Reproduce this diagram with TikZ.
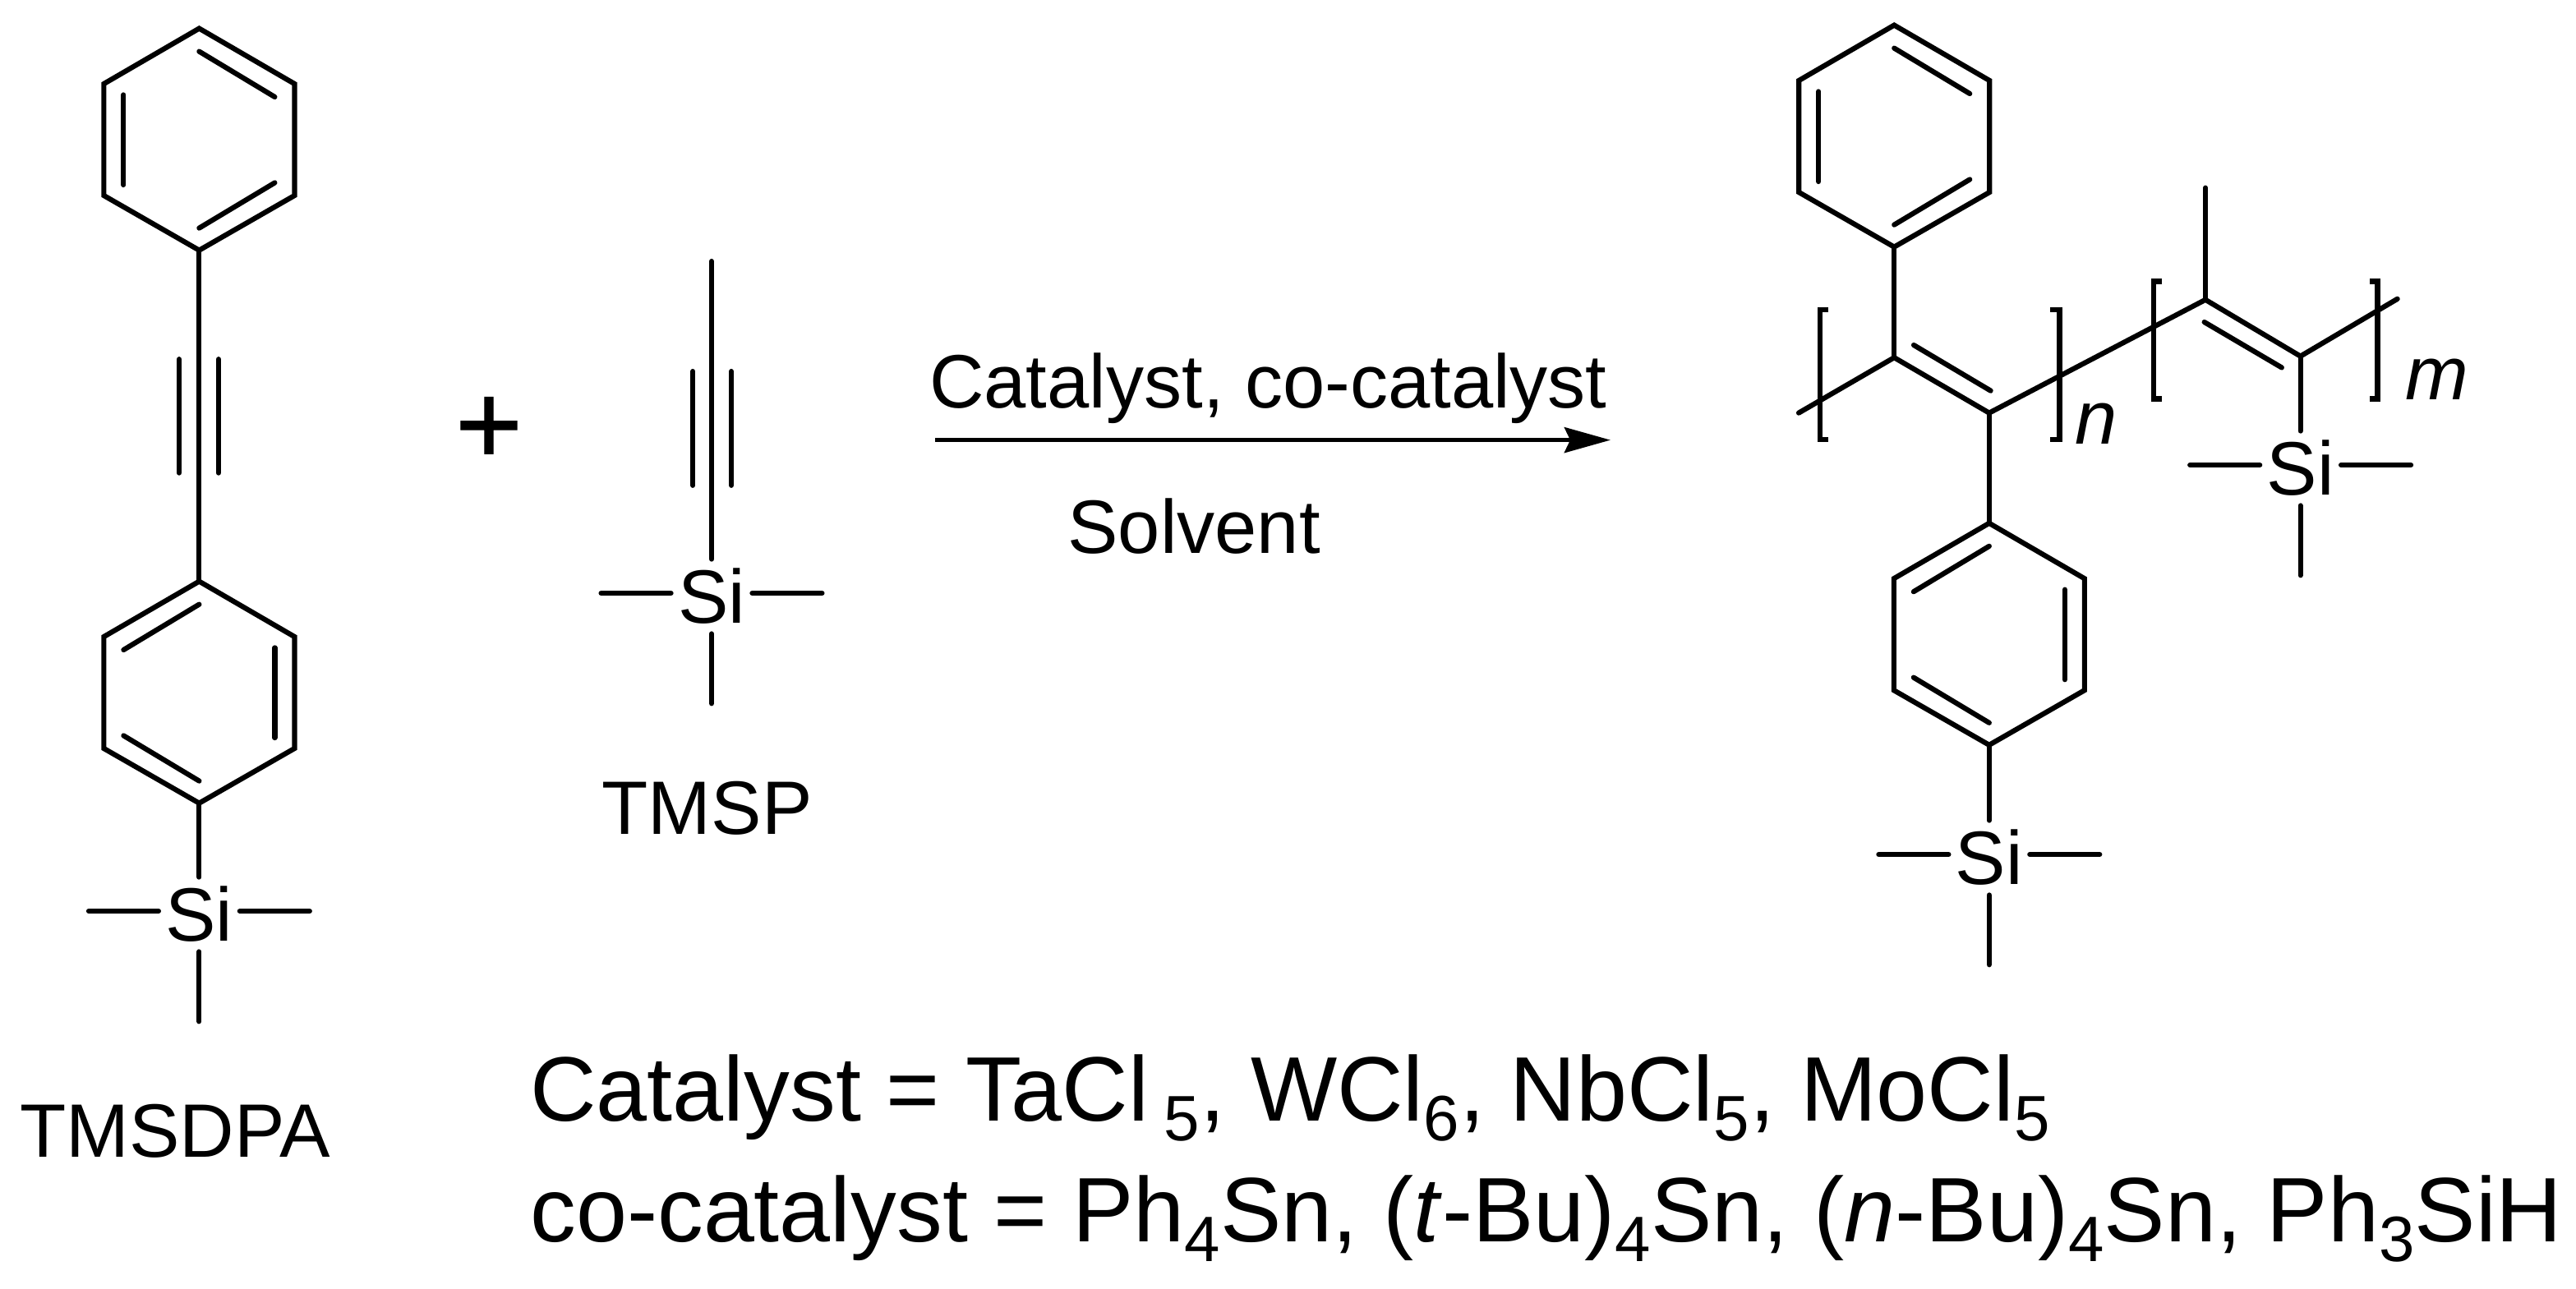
\documentclass[tikz,border=0pt]{standalone}
\usepackage{fontspec}
\setmainfont{Liberation Sans}
\newfontfamily\plusfont[FakeBold=1]{Liberation Sans}
\usetikzlibrary{arrows.meta}

\newcommand{\subn}[1]{\raisebox{-0.22em}{\fontsize{11.1}{12}\selectfont #1}}

\tikzset{
  bond/.style={line width=0.88pt,line cap=round,line join=miter},
  brk/.style={line width=0.9pt,line cap=butt,line join=miter},
  atom/.style={inner sep=0pt,minimum width=0.48cm,minimum height=0.44cm,font=\fontsize{13.1}{15}\selectfont},
  lbl/.style={inner sep=0pt,font=\fontsize{13.1}{15}\selectfont},
  lst/.style={inner sep=0pt,anchor=base west,font=\fontsize{15.85}{18}\selectfont}
}

\begin{document}
\begin{tikzpicture}[x=0.01cm,y=-0.01cm]
  \useasboundingbox (0,0) rectangle (1567.5,784);

  \foreach \name/\x/\y/\s in {pha/121.2/17.3/1,phb/121.2/353.8/-1,phc/1152.6/15.3/1,phd/1210.4/318.4/-1} {
    \begin{scope}[shift={(\x,\y)},xscale=\s]
      \coordinate (\name t) at (0,0);
      \coordinate (\name b) at (0,135);
      \draw[bond] (0,0) -- (58,33.7) -- (58,101.7) -- (0,135) -- (-58,101.7) -- (-58,33.7) -- cycle;
      \draw[bond] (0,14) -- (46,41.7);
      \draw[bond] (-46,40.4) -- (-46,95.2);
      \draw[bond] (0,121.5) -- (46,93.9);
    \end{scope}
  }

  \foreach \name/\x/\y in {sia/121.2/556.5,sib/433/363,sic/1210.4/522,sid/1399.8/285} {
    \node[atom] (\name) at (\x,\y) {Si};
    \draw[bond] ([yshift=0.2mm]\name.west) -- ++(-42.5,0);
    \draw[bond] ([yshift=0.2mm]\name.east) -- ++(42.5,0);
    \draw[bond] (\name.south) -- ++(0,42.4);
  }

  % TMSDPA
  \draw[bond] (phab) -- (phbt);
  \draw[bond] (phbb) -- (sia.north);
  \draw[bond] (109,218.6) -- (109,287.8);
  \draw[bond] (133,218.6) -- (133,287.8);
  \node[lbl] (tmsdpa) at (106.5,688.4) {TMSDPA};

  \node[inner sep=0pt,font=\plusfont\fontsize{19.9}{22}\selectfont] (plus) at (297.5,262) {+};

  % TMSP
  \coordinate (tmspend) at (433,159);
  \draw[bond] (tmspend) -- (sib.north);
  \draw[bond] (421.6,226) -- (421.6,295.4);
  \draw[bond] (445,226) -- (445,295.4);
  \node[lbl] (tmsp) at (430.3,492) {TMSP};

  % reaction arrow
  \coordinate (arrowa) at (569,267.8);
  \coordinate (arrowb) at (980,267.8);
  \draw[line width=0.8pt,-{Stealth[length=0.28cm,width=0.154cm,inset=0.035cm]}] (arrowa) -- (arrowb);
  \node[lbl,anchor=base] (cat) at (771.7,248.3) {Catalyst, co-catalyst};
  \node[lbl,anchor=base] (solv) at (726.5,336.7) {Solvent};

  % polymer
  \coordinate (cha) at (1094.5,251.3);
  \coordinate (chb) at (1152.6,217.6);
  \coordinate (chc) at (1210.4,251.3);
  \coordinate (chd) at (1342,182.4);
  \coordinate (che) at (1399.8,216.8);
  \coordinate (chf) at (1458.8,181.9);
  \coordinate (methyl) at (1342,114.3);
  \draw[bond] (cha) -- (chb) -- (chc) -- (chd) -- (che) -- (chf);
  \draw[bond] (1164.5,210) -- (1211.3,237.8);
  \draw[bond] (1341.3,196) -- (1388.4,223.7);
  \draw[bond] (phcb) -- (chb);
  \draw[bond] (chc) -- (phdt);
  \draw[bond] (phdb) -- (sic.north);
  \draw[bond] (chd) -- (methyl);
  \draw[bond] (che) -- (sid.north);

  \draw[brk] (1112.5,188.6) -- (1107.5,188.6) -- (1107.5,267.6) -- (1112.5,267.6);
  \draw[brk] (1247.7,188.6) -- (1253.2,188.6) -- (1253.2,267.6) -- (1247.7,267.6);
  \draw[brk] (1315.6,171.3) -- (1310.5,171.3) -- (1310.5,242.7) -- (1315.6,242.7);
  \draw[brk] (1442,171.3) -- (1446.8,171.3) -- (1446.8,242.7) -- (1442,242.7);
  \node[lbl] (nlbl) at (1275.4,257.7) {\itshape n};
  \node[lbl] (mlbl) at (1483,231) {\itshape m};

  % catalyst lists
  \node[lst] (catlist) at (322,682) {Catalyst = TaCl\,\subn{5}, WCl\subn{6}, NbCl\subn{5}, MoCl\subn{5}};
  \node[lst] (colist) at (322,755.5) {co-catalyst = Ph\subn{4}Sn, (\textit{t}-Bu)\subn{4}Sn, (\textit{n}-Bu)\subn{4}Sn, Ph\subn{3}SiH};
\end{tikzpicture}
\end{document}
